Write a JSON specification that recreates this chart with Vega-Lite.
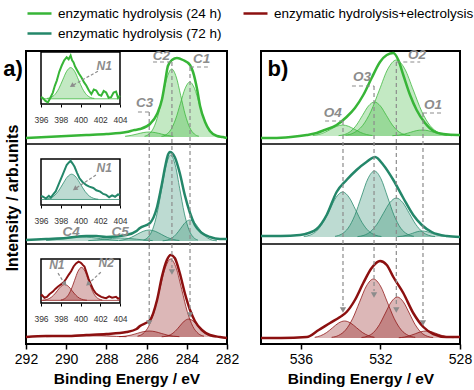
{
"$schema": "https://vega.github.io/schema/vega-lite/v6.json",
"padding": {"left": 2, "top": 0, "right": 2, "bottom": 2},
"bounds": "flush",
"spacing": 34,
"config": {"font": "Liberation Sans", "view": {"stroke": "black", "strokeWidth": 2}, "axis": {"grid": false},
 "legend": {"orient": "top", "columns": 2, "symbolType": "stroke", "symbolSize": 576, "symbolStrokeWidth": 2.5, "labelFontSize": 13.5, "labelColor": "black", "labelLimit": 300, "labelOffset": 5, "columnPadding": 16, "rowPadding": -8, "offset": 6, "symbolOpacity": 1}},
"datasets": {
"main": [
{"c":"C","p":"a","s":"env","x":292,"y":206},{"c":"C","p":"a","s":"env","x":291,"y":207},{"c":"C","p":"a","s":"env","x":290,"y":208},{"c":"C","p":"a","s":"env","x":289,"y":209},{"c":"C","p":"a","s":"env","x":288,"y":210},{"c":"C","p":"a","s":"env","x":287,"y":212},{"c":"C","p":"a","s":"env","x":286.6,"y":214},{"c":"C","p":"a","s":"env","x":286.33,"y":215},{"c":"C","p":"a","s":"env","x":285.83,"y":220},{"c":"C","p":"a","s":"env","x":285.48,"y":230},{"c":"C","p":"a","s":"env","x":285.23,"y":245},{"c":"C","p":"a","s":"env","x":285.08,"y":262},{"c":"C","p":"a","s":"env","x":284.94,"y":278},{"c":"C","p":"a","s":"env","x":284.74,"y":284},{"c":"C","p":"a","s":"env","x":284.49,"y":286},{"c":"C","p":"a","s":"env","x":284.19,"y":284},{"c":"C","p":"a","s":"env","x":283.84,"y":279},{"c":"C","p":"a","s":"env","x":283.69,"y":272},{"c":"C","p":"a","s":"env","x":283.49,"y":255},{"c":"C","p":"a","s":"env","x":283.34,"y":238},{"c":"C","p":"a","s":"env","x":283.09,"y":222},{"c":"C","p":"a","s":"env","x":282.85,"y":213},{"c":"C","p":"a","s":"env","x":282.5,"y":208},{"c":"C","p":"a","s":"env","x":282.2,"y":207},{"c":"C","p":"a","s":"env","x":282,"y":206},
{"c":"C","p":"a","s":"C2","x":286.1,"y":207.8,"b":207},{"c":"C","p":"a","s":"C2","x":285.875,"y":210,"b":207},{"c":"C","p":"a","s":"C2","x":285.65,"y":216.2,"b":207},{"c":"C","p":"a","s":"C2","x":285.425,"y":229.1,"b":207},{"c":"C","p":"a","s":"C2","x":285.2,"y":248.2,"b":207},{"c":"C","p":"a","s":"C2","x":284.975,"y":267,"b":207},{"c":"C","p":"a","s":"C2","x":284.75,"y":275,"b":207},{"c":"C","p":"a","s":"C2","x":284.525,"y":267,"b":207},{"c":"C","p":"a","s":"C2","x":284.3,"y":248.2,"b":207},{"c":"C","p":"a","s":"C2","x":284.075,"y":229.1,"b":207},{"c":"C","p":"a","s":"C2","x":283.85,"y":216.2,"b":207},{"c":"C","p":"a","s":"C2","x":283.625,"y":210,"b":207},{"c":"C","p":"a","s":"C2","x":283.4,"y":207.8,"b":207},
{"c":"C","p":"a","s":"C1","x":285.26,"y":207.6,"b":207},{"c":"C","p":"a","s":"C1","x":285.025,"y":209.4,"b":207},{"c":"C","p":"a","s":"C1","x":284.79,"y":214.4,"b":207},{"c":"C","p":"a","s":"C1","x":284.555,"y":224.9,"b":207},{"c":"C","p":"a","s":"C1","x":284.32,"y":240.4,"b":207},{"c":"C","p":"a","s":"C1","x":284.085,"y":255.5,"b":207},{"c":"C","p":"a","s":"C1","x":283.85,"y":262,"b":207},{"c":"C","p":"a","s":"C1","x":283.615,"y":255.5,"b":207},{"c":"C","p":"a","s":"C1","x":283.38,"y":240.4,"b":207},{"c":"C","p":"a","s":"C1","x":283.145,"y":224.9,"b":207},{"c":"C","p":"a","s":"C1","x":282.91,"y":214.4,"b":207},{"c":"C","p":"a","s":"C1","x":282.675,"y":209.4,"b":207},{"c":"C","p":"a","s":"C1","x":282.44,"y":207.6,"b":207},
{"c":"C","p":"a","s":"C3","x":287.07,"y":207.7,"b":207},{"c":"C","p":"a","s":"C3","x":286.77,"y":208.6,"b":207},{"c":"C","p":"a","s":"C3","x":286.47,"y":210,"b":207},{"c":"C","p":"a","s":"C3","x":286.17,"y":211.4,"b":207},{"c":"C","p":"a","s":"C3","x":285.87,"y":212,"b":207},{"c":"C","p":"a","s":"C3","x":285.57,"y":211.4,"b":207},{"c":"C","p":"a","s":"C3","x":285.27,"y":210,"b":207},{"c":"C","p":"a","s":"C3","x":284.97,"y":208.6,"b":207},{"c":"C","p":"a","s":"C3","x":284.67,"y":207.7,"b":207},
{"c":"C","p":"b","s":"env","x":292,"y":104},{"c":"C","p":"b","s":"env","x":291,"y":105},{"c":"C","p":"b","s":"env","x":290,"y":106},{"c":"C","p":"b","s":"env","x":289,"y":108},{"c":"C","p":"b","s":"env","x":288.5,"y":108},{"c":"C","p":"b","s":"env","x":288,"y":107},{"c":"C","p":"b","s":"env","x":287,"y":109},{"c":"C","p":"b","s":"env","x":286.5,"y":113},{"c":"C","p":"b","s":"env","x":286.33,"y":116},{"c":"C","p":"b","s":"env","x":285.83,"y":121},{"c":"C","p":"b","s":"env","x":285.48,"y":137},{"c":"C","p":"b","s":"env","x":285.23,"y":161},{"c":"C","p":"b","s":"env","x":285.08,"y":177},{"c":"C","p":"b","s":"env","x":284.94,"y":189},{"c":"C","p":"b","s":"env","x":284.84,"y":192},{"c":"C","p":"b","s":"env","x":284.6,"y":187},{"c":"C","p":"b","s":"env","x":284.35,"y":171},{"c":"C","p":"b","s":"env","x":284.1,"y":149},{"c":"C","p":"b","s":"env","x":283.84,"y":131},{"c":"C","p":"b","s":"env","x":283.6,"y":119},{"c":"C","p":"b","s":"env","x":283.25,"y":111},{"c":"C","p":"b","s":"env","x":282.85,"y":107},{"c":"C","p":"b","s":"env","x":282.35,"y":105},{"c":"C","p":"b","s":"env","x":282,"y":105},
{"c":"C","p":"b","s":"C2","x":286.15,"y":104,"b":103},{"c":"C","p":"b","s":"C2","x":285.925,"y":106.8,"b":103},{"c":"C","p":"b","s":"C2","x":285.7,"y":114.6,"b":103},{"c":"C","p":"b","s":"C2","x":285.475,"y":130.9,"b":103},{"c":"C","p":"b","s":"C2","x":285.25,"y":155.2,"b":103},{"c":"C","p":"b","s":"C2","x":285.025,"y":178.9,"b":103},{"c":"C","p":"b","s":"C2","x":284.8,"y":189,"b":103},{"c":"C","p":"b","s":"C2","x":284.575,"y":178.9,"b":103},{"c":"C","p":"b","s":"C2","x":284.35,"y":155.2,"b":103},{"c":"C","p":"b","s":"C2","x":284.125,"y":130.9,"b":103},{"c":"C","p":"b","s":"C2","x":283.9,"y":114.6,"b":103},{"c":"C","p":"b","s":"C2","x":283.675,"y":106.8,"b":103},{"c":"C","p":"b","s":"C2","x":283.45,"y":104,"b":103},
{"c":"C","p":"b","s":"C1","x":285.2,"y":103.2,"b":103},{"c":"C","p":"b","s":"C1","x":284.975,"y":103.9,"b":103},{"c":"C","p":"b","s":"C1","x":284.75,"y":105.8,"b":103},{"c":"C","p":"b","s":"C1","x":284.525,"y":109.8,"b":103},{"c":"C","p":"b","s":"C1","x":284.3,"y":115.7,"b":103},{"c":"C","p":"b","s":"C1","x":284.075,"y":121.5,"b":103},{"c":"C","p":"b","s":"C1","x":283.85,"y":124,"b":103},{"c":"C","p":"b","s":"C1","x":283.625,"y":121.5,"b":103},{"c":"C","p":"b","s":"C1","x":283.4,"y":115.7,"b":103},{"c":"C","p":"b","s":"C1","x":283.175,"y":109.8,"b":103},{"c":"C","p":"b","s":"C1","x":282.95,"y":105.8,"b":103},{"c":"C","p":"b","s":"C1","x":282.725,"y":103.9,"b":103},{"c":"C","p":"b","s":"C1","x":282.5,"y":103.2,"b":103},
{"c":"C","p":"b","s":"C3","x":287.37,"y":103.5,"b":103},{"c":"C","p":"b","s":"C3","x":287.07,"y":104.5,"b":103},{"c":"C","p":"b","s":"C3","x":286.77,"y":106.6,"b":103},{"c":"C","p":"b","s":"C3","x":286.47,"y":109.7,"b":103},{"c":"C","p":"b","s":"C3","x":286.17,"y":112.7,"b":103},{"c":"C","p":"b","s":"C3","x":285.87,"y":114,"b":103},{"c":"C","p":"b","s":"C3","x":285.57,"y":112.7,"b":103},{"c":"C","p":"b","s":"C3","x":285.27,"y":109.7,"b":103},{"c":"C","p":"b","s":"C3","x":284.97,"y":106.6,"b":103},{"c":"C","p":"b","s":"C3","x":284.67,"y":104.5,"b":103},{"c":"C","p":"b","s":"C3","x":284.37,"y":103.5,"b":103},
{"c":"C","p":"b","s":"C5","x":288.9,"y":103.4,"b":103},{"c":"C","p":"b","s":"C5","x":288.5,"y":104,"b":103},{"c":"C","p":"b","s":"C5","x":288.1,"y":104.8,"b":103},{"c":"C","p":"b","s":"C5","x":287.7,"y":105.6,"b":103},{"c":"C","p":"b","s":"C5","x":287.3,"y":106,"b":103},{"c":"C","p":"b","s":"C5","x":286.9,"y":105.6,"b":103},{"c":"C","p":"b","s":"C5","x":286.5,"y":104.8,"b":103},{"c":"C","p":"b","s":"C5","x":286.1,"y":104,"b":103},{"c":"C","p":"b","s":"C5","x":285.7,"y":103.4,"b":103},
{"c":"C","p":"b","s":"C4","x":291,"y":103.5,"b":103},{"c":"C","p":"b","s":"C4","x":290.55,"y":104.3,"b":103},{"c":"C","p":"b","s":"C4","x":290.1,"y":105.4,"b":103},{"c":"C","p":"b","s":"C4","x":289.65,"y":106.5,"b":103},{"c":"C","p":"b","s":"C4","x":289.2,"y":107,"b":103},{"c":"C","p":"b","s":"C4","x":288.75,"y":106.5,"b":103},{"c":"C","p":"b","s":"C4","x":288.3,"y":105.4,"b":103},{"c":"C","p":"b","s":"C4","x":287.85,"y":104.3,"b":103},{"c":"C","p":"b","s":"C4","x":287.4,"y":103.5,"b":103},
{"c":"C","p":"c","s":"env","x":292,"y":7},{"c":"C","p":"c","s":"env","x":291,"y":8},{"c":"C","p":"c","s":"env","x":290,"y":8},{"c":"C","p":"c","s":"env","x":289,"y":9},{"c":"C","p":"c","s":"env","x":288,"y":10},{"c":"C","p":"c","s":"env","x":287,"y":12},{"c":"C","p":"c","s":"env","x":286.5,"y":15},{"c":"C","p":"c","s":"env","x":286.33,"y":18},{"c":"C","p":"c","s":"env","x":285.83,"y":24},{"c":"C","p":"c","s":"env","x":285.48,"y":44},{"c":"C","p":"c","s":"env","x":285.23,"y":68},{"c":"C","p":"c","s":"env","x":284.99,"y":84},{"c":"C","p":"c","s":"env","x":284.8,"y":89},{"c":"C","p":"c","s":"env","x":284.6,"y":86},{"c":"C","p":"c","s":"env","x":284.35,"y":71},{"c":"C","p":"c","s":"env","x":284.1,"y":51},{"c":"C","p":"c","s":"env","x":283.84,"y":34},{"c":"C","p":"c","s":"env","x":283.6,"y":23},{"c":"C","p":"c","s":"env","x":283.25,"y":14},{"c":"C","p":"c","s":"env","x":282.85,"y":9},{"c":"C","p":"c","s":"env","x":282.35,"y":7},{"c":"C","p":"c","s":"env","x":282,"y":6},
{"c":"C","p":"c","s":"C2","x":286.45,"y":7.9,"b":7},{"c":"C","p":"c","s":"C2","x":286.175,"y":10.4,"b":7},{"c":"C","p":"c","s":"C2","x":285.9,"y":17.6,"b":7},{"c":"C","p":"c","s":"C2","x":285.625,"y":32.3,"b":7},{"c":"C","p":"c","s":"C2","x":285.35,"y":54.3,"b":7},{"c":"C","p":"c","s":"C2","x":285.075,"y":75.8,"b":7},{"c":"C","p":"c","s":"C2","x":284.8,"y":85,"b":7},{"c":"C","p":"c","s":"C2","x":284.525,"y":75.8,"b":7},{"c":"C","p":"c","s":"C2","x":284.25,"y":54.3,"b":7},{"c":"C","p":"c","s":"C2","x":283.975,"y":32.3,"b":7},{"c":"C","p":"c","s":"C2","x":283.7,"y":17.6,"b":7},{"c":"C","p":"c","s":"C2","x":283.425,"y":10.4,"b":7},{"c":"C","p":"c","s":"C2","x":283.15,"y":7.9,"b":7},
{"c":"C","p":"c","s":"C1","x":285.25,"y":7.2,"b":7},{"c":"C","p":"c","s":"C1","x":285.025,"y":7.8,"b":7},{"c":"C","p":"c","s":"C1","x":284.8,"y":9.4,"b":7},{"c":"C","p":"c","s":"C1","x":284.575,"y":12.8,"b":7},{"c":"C","p":"c","s":"C1","x":284.35,"y":17.9,"b":7},{"c":"C","p":"c","s":"C1","x":284.125,"y":22.9,"b":7},{"c":"C","p":"c","s":"C1","x":283.9,"y":25,"b":7},{"c":"C","p":"c","s":"C1","x":283.675,"y":22.9,"b":7},{"c":"C","p":"c","s":"C1","x":283.45,"y":17.9,"b":7},{"c":"C","p":"c","s":"C1","x":283.225,"y":12.8,"b":7},{"c":"C","p":"c","s":"C1","x":283.0,"y":9.4,"b":7},{"c":"C","p":"c","s":"C1","x":282.775,"y":7.8,"b":7},{"c":"C","p":"c","s":"C1","x":282.55,"y":7.2,"b":7},
{"c":"C","p":"c","s":"C3","x":287.37,"y":7.3,"b":7},{"c":"C","p":"c","s":"C3","x":287.07,"y":7.8,"b":7},{"c":"C","p":"c","s":"C3","x":286.77,"y":8.9,"b":7},{"c":"C","p":"c","s":"C3","x":286.47,"y":10.6,"b":7},{"c":"C","p":"c","s":"C3","x":286.17,"y":12.3,"b":7},{"c":"C","p":"c","s":"C3","x":285.87,"y":13,"b":7},{"c":"C","p":"c","s":"C3","x":285.57,"y":12.3,"b":7},{"c":"C","p":"c","s":"C3","x":285.27,"y":10.6,"b":7},{"c":"C","p":"c","s":"C3","x":284.97,"y":8.9,"b":7},{"c":"C","p":"c","s":"C3","x":284.67,"y":7.8,"b":7},{"c":"C","p":"c","s":"C3","x":284.37,"y":7.3,"b":7},
{"c":"C","p":"c","s":"C4","x":291,"y":7.3,"b":7},{"c":"C","p":"c","s":"C4","x":290.5,"y":7.6,"b":7},{"c":"C","p":"c","s":"C4","x":290,"y":8.2,"b":7},{"c":"C","p":"c","s":"C4","x":289.5,"y":8.8,"b":7},{"c":"C","p":"c","s":"C4","x":289,"y":9,"b":7},{"c":"C","p":"c","s":"C4","x":288.5,"y":8.8,"b":7},{"c":"C","p":"c","s":"C4","x":288,"y":8.2,"b":7},{"c":"C","p":"c","s":"C4","x":287.5,"y":7.6,"b":7},{"c":"C","p":"c","s":"C4","x":287,"y":7.3,"b":7},
{"c":"O","p":"a","s":"env","x":538,"y":206},{"c":"O","p":"a","s":"env","x":537.4,"y":206},{"c":"O","p":"a","s":"env","x":536.5,"y":207},{"c":"O","p":"a","s":"env","x":535.7,"y":209},{"c":"O","p":"a","s":"env","x":535.2,"y":211},{"c":"O","p":"a","s":"env","x":534.8,"y":214},{"c":"O","p":"a","s":"env","x":534.2,"y":219},{"c":"O","p":"a","s":"env","x":533.7,"y":227},{"c":"O","p":"a","s":"env","x":533.28,"y":236},{"c":"O","p":"a","s":"env","x":532.86,"y":249},{"c":"O","p":"a","s":"env","x":532.44,"y":266},{"c":"O","p":"a","s":"env","x":532.02,"y":282},{"c":"O","p":"a","s":"env","x":531.68,"y":289},{"c":"O","p":"a","s":"env","x":531.35,"y":291},{"c":"O","p":"a","s":"env","x":531.1,"y":284},{"c":"O","p":"a","s":"env","x":530.85,"y":269},{"c":"O","p":"a","s":"env","x":530.51,"y":249},{"c":"O","p":"a","s":"env","x":530.18,"y":234},{"c":"O","p":"a","s":"env","x":529.76,"y":221},{"c":"O","p":"a","s":"env","x":529.34,"y":213},{"c":"O","p":"a","s":"env","x":528.84,"y":210},{"c":"O","p":"a","s":"env","x":528.1,"y":209},{"c":"O","p":"a","s":"env","x":528,"y":209},
{"c":"O","p":"a","s":"O2","x":533.75,"y":208.8,"b":208},{"c":"O","p":"a","s":"O2","x":533.325,"y":211.3,"b":208},{"c":"O","p":"a","s":"O2","x":532.9,"y":218.3,"b":208},{"c":"O","p":"a","s":"O2","x":532.475,"y":232.7,"b":208},{"c":"O","p":"a","s":"O2","x":532.05,"y":254.1,"b":208},{"c":"O","p":"a","s":"O2","x":531.625,"y":275.1,"b":208},{"c":"O","p":"a","s":"O2","x":531.2,"y":284,"b":208},{"c":"O","p":"a","s":"O2","x":530.775,"y":275.1,"b":208},{"c":"O","p":"a","s":"O2","x":530.35,"y":254.1,"b":208},{"c":"O","p":"a","s":"O2","x":529.925,"y":232.7,"b":208},{"c":"O","p":"a","s":"O2","x":529.5,"y":218.3,"b":208},{"c":"O","p":"a","s":"O2","x":529.075,"y":211.3,"b":208},{"c":"O","p":"a","s":"O2","x":528.65,"y":208.8,"b":208},
{"c":"O","p":"a","s":"O3","x":534.1,"y":208.4,"b":208},{"c":"O","p":"a","s":"O3","x":533.8,"y":209.5,"b":208},{"c":"O","p":"a","s":"O3","x":533.5,"y":212.6,"b":208},{"c":"O","p":"a","s":"O3","x":533.2,"y":219,"b":208},{"c":"O","p":"a","s":"O3","x":532.9,"y":228.6,"b":208},{"c":"O","p":"a","s":"O3","x":532.6,"y":238,"b":208},{"c":"O","p":"a","s":"O3","x":532.3,"y":242,"b":208},{"c":"O","p":"a","s":"O3","x":532.0,"y":238,"b":208},{"c":"O","p":"a","s":"O3","x":531.7,"y":228.6,"b":208},{"c":"O","p":"a","s":"O3","x":531.4,"y":219,"b":208},{"c":"O","p":"a","s":"O3","x":531.1,"y":212.6,"b":208},{"c":"O","p":"a","s":"O3","x":530.8,"y":209.5,"b":208},{"c":"O","p":"a","s":"O3","x":530.5,"y":208.4,"b":208},
{"c":"O","p":"a","s":"O4","x":535.4,"y":208.5,"b":208},{"c":"O","p":"a","s":"O4","x":535.1,"y":209.5,"b":208},{"c":"O","p":"a","s":"O4","x":534.8,"y":211.6,"b":208},{"c":"O","p":"a","s":"O4","x":534.5,"y":214.7,"b":208},{"c":"O","p":"a","s":"O4","x":534.2,"y":217.7,"b":208},{"c":"O","p":"a","s":"O4","x":533.9,"y":219,"b":208},{"c":"O","p":"a","s":"O4","x":533.6,"y":217.7,"b":208},{"c":"O","p":"a","s":"O4","x":533.3,"y":214.7,"b":208},{"c":"O","p":"a","s":"O4","x":533.0,"y":211.6,"b":208},{"c":"O","p":"a","s":"O4","x":532.7,"y":209.5,"b":208},{"c":"O","p":"a","s":"O4","x":532.4,"y":208.5,"b":208},
{"c":"O","p":"a","s":"O1","x":531.4,"y":208.3,"b":208},{"c":"O","p":"a","s":"O1","x":531.1,"y":208.8,"b":208},{"c":"O","p":"a","s":"O1","x":530.8,"y":209.9,"b":208},{"c":"O","p":"a","s":"O1","x":530.5,"y":211.6,"b":208},{"c":"O","p":"a","s":"O1","x":530.2,"y":213.3,"b":208},{"c":"O","p":"a","s":"O1","x":529.9,"y":214,"b":208},{"c":"O","p":"a","s":"O1","x":529.6,"y":213.3,"b":208},{"c":"O","p":"a","s":"O1","x":529.3,"y":211.6,"b":208},{"c":"O","p":"a","s":"O1","x":529.0,"y":209.9,"b":208},{"c":"O","p":"a","s":"O1","x":528.7,"y":208.8,"b":208},{"c":"O","p":"a","s":"O1","x":528.4,"y":208.3,"b":208},
{"c":"O","p":"b","s":"env","x":538,"y":108},{"c":"O","p":"b","s":"env","x":537,"y":108},{"c":"O","p":"b","s":"env","x":536.04,"y":109},{"c":"O","p":"b","s":"env","x":535.6,"y":111},{"c":"O","p":"b","s":"env","x":535.2,"y":115},{"c":"O","p":"b","s":"env","x":534.7,"y":129},{"c":"O","p":"b","s":"env","x":534.2,"y":152},{"c":"O","p":"b","s":"env","x":533.7,"y":164},{"c":"O","p":"b","s":"env","x":533.2,"y":174},{"c":"O","p":"b","s":"env","x":532.7,"y":182},{"c":"O","p":"b","s":"env","x":532.27,"y":187},{"c":"O","p":"b","s":"env","x":531.85,"y":179},{"c":"O","p":"b","s":"env","x":531.35,"y":164},{"c":"O","p":"b","s":"env","x":530.85,"y":146},{"c":"O","p":"b","s":"env","x":530.35,"y":129},{"c":"O","p":"b","s":"env","x":529.92,"y":119},{"c":"O","p":"b","s":"env","x":529.42,"y":112},{"c":"O","p":"b","s":"env","x":528.67,"y":108},{"c":"O","p":"b","s":"env","x":528,"y":107},
{"c":"O","p":"b","s":"O4","x":535.85,"y":107.5,"b":107},{"c":"O","p":"b","s":"O4","x":535.525,"y":109,"b":107},{"c":"O","p":"b","s":"O4","x":535.2,"y":113.1,"b":107},{"c":"O","p":"b","s":"O4","x":534.875,"y":121.6,"b":107},{"c":"O","p":"b","s":"O4","x":534.55,"y":134.3,"b":107},{"c":"O","p":"b","s":"O4","x":534.225,"y":146.7,"b":107},{"c":"O","p":"b","s":"O4","x":533.9,"y":152,"b":107},{"c":"O","p":"b","s":"O4","x":533.575,"y":146.7,"b":107},{"c":"O","p":"b","s":"O4","x":533.25,"y":134.3,"b":107},{"c":"O","p":"b","s":"O4","x":532.925,"y":121.6,"b":107},{"c":"O","p":"b","s":"O4","x":532.6,"y":113.1,"b":107},{"c":"O","p":"b","s":"O4","x":532.275,"y":109,"b":107},{"c":"O","p":"b","s":"O4","x":531.95,"y":107.5,"b":107},
{"c":"O","p":"b","s":"O3","x":534.28,"y":107.7,"b":107},{"c":"O","p":"b","s":"O3","x":533.95,"y":109.9,"b":107},{"c":"O","p":"b","s":"O3","x":533.62,"y":115.9,"b":107},{"c":"O","p":"b","s":"O3","x":533.29,"y":128.4,"b":107},{"c":"O","p":"b","s":"O3","x":532.96,"y":147,"b":107},{"c":"O","p":"b","s":"O3","x":532.63,"y":165.2,"b":107},{"c":"O","p":"b","s":"O3","x":532.3,"y":173,"b":107},{"c":"O","p":"b","s":"O3","x":531.97,"y":165.2,"b":107},{"c":"O","p":"b","s":"O3","x":531.64,"y":147,"b":107},{"c":"O","p":"b","s":"O3","x":531.31,"y":128.4,"b":107},{"c":"O","p":"b","s":"O3","x":530.98,"y":115.9,"b":107},{"c":"O","p":"b","s":"O3","x":530.65,"y":109.9,"b":107},{"c":"O","p":"b","s":"O3","x":530.32,"y":107.7,"b":107},
{"c":"O","p":"b","s":"O2","x":533.15,"y":107.4,"b":107},{"c":"O","p":"b","s":"O2","x":532.825,"y":108.7,"b":107},{"c":"O","p":"b","s":"O2","x":532.5,"y":112.3,"b":107},{"c":"O","p":"b","s":"O2","x":532.175,"y":119.7,"b":107},{"c":"O","p":"b","s":"O2","x":531.85,"y":130.7,"b":107},{"c":"O","p":"b","s":"O2","x":531.525,"y":141.4,"b":107},{"c":"O","p":"b","s":"O2","x":531.2,"y":146,"b":107},{"c":"O","p":"b","s":"O2","x":530.875,"y":141.4,"b":107},{"c":"O","p":"b","s":"O2","x":530.55,"y":130.7,"b":107},{"c":"O","p":"b","s":"O2","x":530.225,"y":119.7,"b":107},{"c":"O","p":"b","s":"O2","x":529.9,"y":112.3,"b":107},{"c":"O","p":"b","s":"O2","x":529.575,"y":108.7,"b":107},{"c":"O","p":"b","s":"O2","x":529.25,"y":107.4,"b":107},
{"c":"O","p":"b","s":"O1","x":531.15,"y":107.3,"b":107},{"c":"O","p":"b","s":"O1","x":530.9,"y":107.8,"b":107},{"c":"O","p":"b","s":"O1","x":530.65,"y":108.9,"b":107},{"c":"O","p":"b","s":"O1","x":530.4,"y":110.6,"b":107},{"c":"O","p":"b","s":"O1","x":530.15,"y":112.3,"b":107},{"c":"O","p":"b","s":"O1","x":529.9,"y":113,"b":107},{"c":"O","p":"b","s":"O1","x":529.65,"y":112.3,"b":107},{"c":"O","p":"b","s":"O1","x":529.4,"y":110.6,"b":107},{"c":"O","p":"b","s":"O1","x":529.15,"y":108.9,"b":107},{"c":"O","p":"b","s":"O1","x":528.9,"y":107.8,"b":107},{"c":"O","p":"b","s":"O1","x":528.65,"y":107.3,"b":107},
{"c":"O","p":"c","s":"env","x":538,"y":6},{"c":"O","p":"c","s":"env","x":537,"y":6},{"c":"O","p":"c","s":"env","x":535.7,"y":7},{"c":"O","p":"c","s":"env","x":535.1,"y":14},{"c":"O","p":"c","s":"env","x":534.53,"y":21},{"c":"O","p":"c","s":"env","x":534.03,"y":27},{"c":"O","p":"c","s":"env","x":533.7,"y":32},{"c":"O","p":"c","s":"env","x":533.28,"y":44},{"c":"O","p":"c","s":"env","x":532.86,"y":61},{"c":"O","p":"c","s":"env","x":532.44,"y":76},{"c":"O","p":"c","s":"env","x":532.02,"y":83},{"c":"O","p":"c","s":"env","x":531.68,"y":79},{"c":"O","p":"c","s":"env","x":531.35,"y":67},{"c":"O","p":"c","s":"env","x":530.85,"y":51},{"c":"O","p":"c","s":"env","x":530.35,"y":31},{"c":"O","p":"c","s":"env","x":529.84,"y":17},{"c":"O","p":"c","s":"env","x":529.34,"y":10},{"c":"O","p":"c","s":"env","x":528.67,"y":7},{"c":"O","p":"c","s":"env","x":528,"y":7},
{"c":"O","p":"c","s":"O4","x":535.3,"y":6.7,"b":6},{"c":"O","p":"c","s":"O4","x":535.0,"y":8.3,"b":6},{"c":"O","p":"c","s":"O4","x":534.7,"y":11.5,"b":6},{"c":"O","p":"c","s":"O4","x":534.4,"y":16.3,"b":6},{"c":"O","p":"c","s":"O4","x":534.1,"y":21,"b":6},{"c":"O","p":"c","s":"O4","x":533.8,"y":23,"b":6},{"c":"O","p":"c","s":"O4","x":533.5,"y":21,"b":6},{"c":"O","p":"c","s":"O4","x":533.2,"y":16.3,"b":6},{"c":"O","p":"c","s":"O4","x":532.9,"y":11.5,"b":6},{"c":"O","p":"c","s":"O4","x":532.6,"y":8.3,"b":6},{"c":"O","p":"c","s":"O4","x":532.3,"y":6.7,"b":6},
{"c":"O","p":"c","s":"O3","x":534.45,"y":6.7,"b":6},{"c":"O","p":"c","s":"O3","x":534.1,"y":8.6,"b":6},{"c":"O","p":"c","s":"O3","x":533.75,"y":14,"b":6},{"c":"O","p":"c","s":"O3","x":533.4,"y":25.2,"b":6},{"c":"O","p":"c","s":"O3","x":533.05,"y":41.8,"b":6},{"c":"O","p":"c","s":"O3","x":532.7,"y":58.1,"b":6},{"c":"O","p":"c","s":"O3","x":532.35,"y":65,"b":6},{"c":"O","p":"c","s":"O3","x":532.0,"y":58.1,"b":6},{"c":"O","p":"c","s":"O3","x":531.65,"y":41.8,"b":6},{"c":"O","p":"c","s":"O3","x":531.3,"y":25.2,"b":6},{"c":"O","p":"c","s":"O3","x":530.95,"y":14,"b":6},{"c":"O","p":"c","s":"O3","x":530.6,"y":8.6,"b":6},{"c":"O","p":"c","s":"O3","x":530.25,"y":6.7,"b":6},
{"c":"O","p":"c","s":"O2","x":532.95,"y":6.5,"b":6},{"c":"O","p":"c","s":"O2","x":532.65,"y":7.8,"b":6},{"c":"O","p":"c","s":"O2","x":532.35,"y":11.5,"b":6},{"c":"O","p":"c","s":"O2","x":532.05,"y":19.3,"b":6},{"c":"O","p":"c","s":"O2","x":531.75,"y":30.9,"b":6},{"c":"O","p":"c","s":"O2","x":531.45,"y":42.2,"b":6},{"c":"O","p":"c","s":"O2","x":531.15,"y":47,"b":6},{"c":"O","p":"c","s":"O2","x":530.85,"y":42.2,"b":6},{"c":"O","p":"c","s":"O2","x":530.55,"y":30.9,"b":6},{"c":"O","p":"c","s":"O2","x":530.25,"y":19.3,"b":6},{"c":"O","p":"c","s":"O2","x":529.95,"y":11.5,"b":6},{"c":"O","p":"c","s":"O2","x":529.65,"y":7.8,"b":6},{"c":"O","p":"c","s":"O2","x":529.35,"y":6.5,"b":6},
{"c":"O","p":"c","s":"O1","x":531.075,"y":6.3,"b":6},{"c":"O","p":"c","s":"O1","x":530.8,"y":6.9,"b":6},{"c":"O","p":"c","s":"O1","x":530.525,"y":8.3,"b":6},{"c":"O","p":"c","s":"O1","x":530.25,"y":10.2,"b":6},{"c":"O","p":"c","s":"O1","x":529.975,"y":12.2,"b":6},{"c":"O","p":"c","s":"O1","x":529.7,"y":13,"b":6},{"c":"O","p":"c","s":"O1","x":529.425,"y":12.2,"b":6},{"c":"O","p":"c","s":"O1","x":529.15,"y":10.2,"b":6},{"c":"O","p":"c","s":"O1","x":528.875,"y":8.3,"b":6},{"c":"O","p":"c","s":"O1","x":528.6,"y":6.9,"b":6},{"c":"O","p":"c","s":"O1","x":528.325,"y":6.3,"b":6}
],
"ins": [
{"p":"a","s":"env","x":396,"y":14},{"p":"a","s":"env","x":396.2,"y":11},{"p":"a","s":"env","x":396.45,"y":6},{"p":"a","s":"env","x":396.7,"y":3},{"p":"a","s":"env","x":396.95,"y":12},{"p":"a","s":"env","x":397.2,"y":22},{"p":"a","s":"env","x":397.4,"y":35},{"p":"a","s":"env","x":397.6,"y":45},{"p":"a","s":"env","x":397.85,"y":62},{"p":"a","s":"env","x":398.1,"y":74},{"p":"a","s":"env","x":398.35,"y":84},{"p":"a","s":"env","x":398.6,"y":90},{"p":"a","s":"env","x":398.8,"y":86},{"p":"a","s":"env","x":399.0,"y":93},{"p":"a","s":"env","x":399.15,"y":84},{"p":"a","s":"env","x":399.3,"y":80},{"p":"a","s":"env","x":399.45,"y":72},{"p":"a","s":"env","x":399.6,"y":67},{"p":"a","s":"env","x":399.85,"y":58},{"p":"a","s":"env","x":400.1,"y":51},{"p":"a","s":"env","x":400.35,"y":42},{"p":"a","s":"env","x":400.6,"y":35},{"p":"a","s":"env","x":400.85,"y":26},{"p":"a","s":"env","x":401.1,"y":19},{"p":"a","s":"env","x":401.35,"y":28},{"p":"a","s":"env","x":401.6,"y":26},{"p":"a","s":"env","x":401.85,"y":18},{"p":"a","s":"env","x":402.1,"y":16},{"p":"a","s":"env","x":402.35,"y":25},{"p":"a","s":"env","x":402.6,"y":22},{"p":"a","s":"env","x":402.85,"y":12},{"p":"a","s":"env","x":403.1,"y":13},{"p":"a","s":"env","x":403.35,"y":22},{"p":"a","s":"env","x":403.6,"y":24},{"p":"a","s":"env","x":403.8,"y":12},{"p":"a","s":"env","x":404,"y":16},
{"p":"a","s":"bg","x":396,"y":10,"b":10},{"p":"a","s":"bg","x":404,"y":10,"b":10},
{"p":"a","s":"N1","x":396.6,"y":10.7,"b":10},{"p":"a","s":"N1","x":397.0,"y":12.6,"b":10},{"p":"a","s":"N1","x":397.4,"y":18.1,"b":10},{"p":"a","s":"N1","x":397.8,"y":29.5,"b":10},{"p":"a","s":"N1","x":398.2,"y":46.4,"b":10},{"p":"a","s":"N1","x":398.6,"y":63,"b":10},{"p":"a","s":"N1","x":399.0,"y":70,"b":10},{"p":"a","s":"N1","x":399.4,"y":63,"b":10},{"p":"a","s":"N1","x":399.8,"y":46.4,"b":10},{"p":"a","s":"N1","x":400.2,"y":29.5,"b":10},{"p":"a","s":"N1","x":400.6,"y":18.1,"b":10},{"p":"a","s":"N1","x":401.0,"y":12.6,"b":10},{"p":"a","s":"N1","x":401.4,"y":10.7,"b":10},
{"p":"b","s":"env","x":396,"y":20},{"p":"b","s":"env","x":396.2,"y":18},{"p":"b","s":"env","x":396.5,"y":14},{"p":"b","s":"env","x":396.8,"y":20},{"p":"b","s":"env","x":397.0,"y":16},{"p":"b","s":"env","x":397.2,"y":22},{"p":"b","s":"env","x":397.5,"y":30},{"p":"b","s":"env","x":397.9,"y":51},{"p":"b","s":"env","x":398.2,"y":66},{"p":"b","s":"env","x":398.6,"y":87},{"p":"b","s":"env","x":398.8,"y":92},{"p":"b","s":"env","x":399.0,"y":96},{"p":"b","s":"env","x":399.2,"y":90},{"p":"b","s":"env","x":399.4,"y":83},{"p":"b","s":"env","x":399.65,"y":70},{"p":"b","s":"env","x":399.9,"y":58},{"p":"b","s":"env","x":400.2,"y":50},{"p":"b","s":"env","x":400.6,"y":43},{"p":"b","s":"env","x":400.9,"y":40},{"p":"b","s":"env","x":401.3,"y":37},{"p":"b","s":"env","x":401.6,"y":32},{"p":"b","s":"env","x":402.0,"y":29},{"p":"b","s":"env","x":402.3,"y":24},{"p":"b","s":"env","x":402.6,"y":22},{"p":"b","s":"env","x":402.9,"y":17},{"p":"b","s":"env","x":403.2,"y":21},{"p":"b","s":"env","x":403.5,"y":18},{"p":"b","s":"env","x":403.8,"y":23},{"p":"b","s":"env","x":404,"y":22},
{"p":"b","s":"bg","x":396,"y":12,"b":12},{"p":"b","s":"bg","x":404,"y":12,"b":12},
{"p":"b","s":"N1","x":396.4,"y":12.6,"b":12},{"p":"b","s":"N1","x":396.85,"y":14.4,"b":12},{"p":"b","s":"N1","x":397.3,"y":19.4,"b":12},{"p":"b","s":"N1","x":397.75,"y":29.9,"b":12},{"p":"b","s":"N1","x":398.2,"y":45.4,"b":12},{"p":"b","s":"N1","x":398.65,"y":60.5,"b":12},{"p":"b","s":"N1","x":399.1,"y":67,"b":12},{"p":"b","s":"N1","x":399.55,"y":60.5,"b":12},{"p":"b","s":"N1","x":400.0,"y":45.4,"b":12},{"p":"b","s":"N1","x":400.45,"y":29.9,"b":12},{"p":"b","s":"N1","x":400.9,"y":19.4,"b":12},{"p":"b","s":"N1","x":401.35,"y":14.4,"b":12},{"p":"b","s":"N1","x":401.8,"y":12.6,"b":12},
{"p":"c","s":"env","x":396,"y":16},{"p":"c","s":"env","x":396.1,"y":18},{"p":"c","s":"env","x":396.35,"y":12},{"p":"c","s":"env","x":396.6,"y":14},{"p":"c","s":"env","x":396.85,"y":20},{"p":"c","s":"env","x":397.2,"y":26},{"p":"c","s":"env","x":397.45,"y":32},{"p":"c","s":"env","x":397.7,"y":37},{"p":"c","s":"env","x":398.0,"y":42},{"p":"c","s":"env","x":398.3,"y":47},{"p":"c","s":"env","x":398.55,"y":55},{"p":"c","s":"env","x":398.8,"y":64},{"p":"c","s":"env","x":399.05,"y":72},{"p":"c","s":"env","x":399.3,"y":83},{"p":"c","s":"env","x":399.55,"y":90},{"p":"c","s":"env","x":399.8,"y":94},{"p":"c","s":"env","x":400.0,"y":92},{"p":"c","s":"env","x":400.1,"y":90},{"p":"c","s":"env","x":400.25,"y":86},{"p":"c","s":"env","x":400.4,"y":83},{"p":"c","s":"env","x":400.6,"y":70},{"p":"c","s":"env","x":400.8,"y":56},{"p":"c","s":"env","x":401.05,"y":42},{"p":"c","s":"env","x":401.3,"y":30},{"p":"c","s":"env","x":401.55,"y":22},{"p":"c","s":"env","x":401.8,"y":18},{"p":"c","s":"env","x":402.1,"y":14},{"p":"c","s":"env","x":402.4,"y":12},{"p":"c","s":"env","x":402.6,"y":11},{"p":"c","s":"env","x":402.9,"y":15},{"p":"c","s":"env","x":403.2,"y":12},{"p":"c","s":"env","x":403.6,"y":14},{"p":"c","s":"env","x":403.8,"y":10},{"p":"c","s":"env","x":404,"y":11},
{"p":"c","s":"bg","x":396,"y":6,"b":6},{"p":"c","s":"bg","x":404,"y":6,"b":6},
{"p":"c","s":"N1","x":396.15,"y":6.4,"b":6},{"p":"c","s":"N1","x":396.525,"y":7.6,"b":6},{"p":"c","s":"N1","x":396.9,"y":10.9,"b":6},{"p":"c","s":"N1","x":397.275,"y":17.7,"b":6},{"p":"c","s":"N1","x":397.65,"y":27.8,"b":6},{"p":"c","s":"N1","x":398.025,"y":37.8,"b":6},{"p":"c","s":"N1","x":398.4,"y":42,"b":6},{"p":"c","s":"N1","x":398.775,"y":37.8,"b":6},{"p":"c","s":"N1","x":399.15,"y":27.8,"b":6},{"p":"c","s":"N1","x":399.525,"y":17.7,"b":6},{"p":"c","s":"N1","x":399.9,"y":10.9,"b":6},{"p":"c","s":"N1","x":400.275,"y":7.6,"b":6},{"p":"c","s":"N1","x":400.65,"y":6.4,"b":6},
{"p":"c","s":"N2","x":398.0,"y":6.8,"b":6},{"p":"c","s":"N2","x":398.35,"y":9.3,"b":6},{"p":"c","s":"N2","x":398.7,"y":16.1,"b":6},{"p":"c","s":"N2","x":399.05,"y":30.4,"b":6},{"p":"c","s":"N2","x":399.4,"y":51.5,"b":6},{"p":"c","s":"N2","x":399.75,"y":72.2,"b":6},{"p":"c","s":"N2","x":400.1,"y":81,"b":6},{"p":"c","s":"N2","x":400.45,"y":72.2,"b":6},{"p":"c","s":"N2","x":400.8,"y":51.5,"b":6},{"p":"c","s":"N2","x":401.15,"y":30.4,"b":6},{"p":"c","s":"N2","x":401.5,"y":16.1,"b":6},{"p":"c","s":"N2","x":401.85,"y":9.3,"b":6},{"p":"c","s":"N2","x":402.2,"y":6.8,"b":6}
],
"box": [{"p":"a","x":396,"x2":404,"y":0,"y2":100},{"p":"b","x":396,"x2":404,"y":0,"y2":100},{"p":"c","x":396,"x2":404,"y":0,"y2":100}],
"ilab": [{"p":"a","x":402.4,"y":74,"t":"N1"},{"p":"b","x":402.4,"y":80,"t":"N1"},{"p":"c","x":397.6,"y":86,"t":"N1"},{"p":"c","x":402.6,"y":91,"t":"N2"}],
"iarr": [{"p":"a","id":"a1","x":401.76,"y":63,"end":0},{"p":"a","id":"a1","x":399.13,"y":35,"end":1},{"p":"b","id":"b1","x":401.56,"y":65,"end":0},{"p":"b","id":"b1","x":399.43,"y":35,"end":1},{"p":"c","id":"c1","x":397.72,"y":68,"end":0},{"p":"c","id":"c1","x":398.42,"y":43,"end":1},{"p":"c","id":"c2","x":402.06,"y":70,"end":0},{"p":"c","id":"c2","x":400.75,"y":43,"end":1}],
"lab": [{"c":"C","x":285.26,"y":288,"t":"C2"},{"c":"C","x":283.26,"y":285,"t":"C1"},{"c":"C","x":286.1,"y":241,"t":"C3"},{"c":"C","x":289.76,"y":112,"t":"C4"},{"c":"C","x":287.32,"y":112,"t":"C5"},{"c":"O","x":530.16,"y":289,"t":"O2"},{"c":"O","x":532.93,"y":267,"t":"O3"},{"c":"O","x":534.4,"y":231,"t":"O4"},{"c":"O","x":529.36,"y":239,"t":"O1"}],
"seg": [{"c":"C","x":285.68,"x2":284.74,"y":282,"y2":282},{"c":"C","x":283.84,"x2":282.95,"y":277,"y2":277},{"c":"C","x":286.43,"x2":285.87,"y":232,"y2":232},{"c":"C","x":284.74,"x2":284.74,"y":282,"y2":76},{"c":"C","x":283.84,"x2":283.84,"y":277,"y2":33},{"c":"C","x":285.87,"x2":285.87,"y":232,"y2":25},
{"c":"O","x":531.2,"x2":530.0,"y":282,"y2":282},{"c":"O","x":533.43,"x2":532.32,"y":258,"y2":258},{"c":"O","x":534.78,"x2":533.88,"y":223,"y2":223},{"c":"O","x":529.86,"x2":528.9,"y":231,"y2":231},{"c":"O","x":531.2,"x2":531.2,"y":282,"y2":38},{"c":"O","x":532.32,"x2":532.32,"y":258,"y2":53},{"c":"O","x":533.88,"x2":533.88,"y":223,"y2":38},{"c":"O","x":529.86,"x2":529.86,"y":231,"y2":25}],
"arr": [{"c":"C","x":284.74,"y":72},{"c":"C","x":283.84,"y":29},{"c":"C","x":285.87,"y":21},{"c":"O","x":533.88,"y":34},{"c":"O","x":532.32,"y":49},{"c":"O","x":531.2,"y":34},{"c":"O","x":529.86,"y":21}],
"div": [{"c":"C","y":100},{"c":"C","y":200},{"c":"O","y":100},{"c":"O","y":200}],
"big": [{"c":"C","x":292.65,"y":275,"t":"a)"},{"c":"O","x":537.15,"y":275,"t":"b)"}]
},
"hconcat": [
{
"width": 201, "height": 293,
"resolve": {"scale": {"x": "independent", "y": "independent"}},
"layer": [
{
"layer": [
{"data": {"name": "main"}, "transform": [{"filter": "datum.c == 'C' && datum.s != 'env'"}],
 "mark": {"type": "area", "interpolate": "monotone", "fillOpacity": 0.3, "line": {"strokeWidth": 1, "opacity": 0.75}},
 "encoding": {
  "x": {"field": "x", "type": "quantitative", "scale": {"domain": [282, 292], "reverse": true, "nice": false, "zero": false},
   "axis": {"title": "Binding Energy / eV", "values": [282,283,284,285,286,287,288,289,290,291,292], "labelExpr": "datum.value % 2 == 0 ? datum.label : ''", "domain": false, "tickColor": "black", "tickWidth": 1.5, "tickSize": 5, "labelFontSize": 14, "labelColor": "black", "titleFontSize": 15.5, "titleFontWeight": "bold", "titleColor": "black", "labelPadding": 3, "titlePadding": 5, "labelFlush": false}},
  "y": {"field": "y", "type": "quantitative", "scale": {"domain": [0, 293], "nice": false, "zero": false},
   "axis": {"title": "Intensity / arb.units", "labels": false, "ticks": false, "domain": false, "titleFontSize": 16, "titleFontWeight": "bold", "titleColor": "black", "titlePadding": 6}},
  "y2": {"field": "b"},
  "color": {"field": "p", "type": "nominal", "scale": {"domain": ["a", "c", "b"], "range": ["#37b537", "#8c1010", "#24876a"]}},
  "detail": {"field": "s"}
 }},
{"data": {"name": "main"}, "transform": [{"filter": "datum.c == 'C' && datum.s == 'env'"}],
 "mark": {"type": "line", "interpolate": "monotone", "strokeWidth": 2.5},
 "encoding": {
  "x": {"field": "x", "type": "quantitative", "scale": {"domain": [282, 292], "reverse": true, "nice": false, "zero": false}},
  "y": {"field": "y", "type": "quantitative", "scale": {"domain": [0, 293], "nice": false, "zero": false}},
  "color": {"field": "p", "type": "nominal", "scale": {"domain": ["a", "c", "b"], "range": ["#37b537", "#8c1010", "#24876a"]},
   "legend": {"title": null, "labelExpr": "datum.value == 'a' ? 'enzymatic hydrolysis (24 h)' : datum.value == 'b' ? 'enzymatic hydrolysis (72 h)' : 'enzymatic hydrolysis+electrolysis'"}}
 }},
{"data": {"name": "div"}, "transform": [{"filter": "datum.c == 'C'"}], "mark": {"type": "rule", "color": "black", "strokeWidth": 1.5},
 "encoding": {"y": {"field": "y", "type": "quantitative", "scale": {"domain": [0, 293], "nice": false, "zero": false}}}},
{"data": {"name": "seg"}, "transform": [{"filter": "datum.c == 'C'"}], "mark": {"type": "rule", "color": "#8c8c8c", "strokeWidth": 1.2, "strokeDash": [4, 3]},
 "encoding": {"x": {"field": "x", "type": "quantitative", "scale": {"domain": [282, 292], "reverse": true, "nice": false, "zero": false}}, "x2": {"field": "x2"},
  "y": {"field": "y", "type": "quantitative", "scale": {"domain": [0, 293], "nice": false, "zero": false}}, "y2": {"field": "y2"}}},
{"data": {"name": "arr"}, "transform": [{"filter": "datum.c == 'C'"}], "mark": {"type": "point", "shape": "triangle-down", "filled": true, "color": "#8c8c8c", "size": 40, "opacity": 1},
 "encoding": {"x": {"field": "x", "type": "quantitative", "scale": {"domain": [282, 292], "reverse": true, "nice": false, "zero": false}},
  "y": {"field": "y", "type": "quantitative", "scale": {"domain": [0, 293], "nice": false, "zero": false}}}},
{"data": {"name": "lab"}, "transform": [{"filter": "datum.c == 'C'"}], "mark": {"type": "text", "color": "#8c8c8c", "fontSize": 13.5, "fontWeight": "bold", "fontStyle": "italic", "baseline": "middle"},
 "encoding": {"x": {"field": "x", "type": "quantitative", "scale": {"domain": [282, 292], "reverse": true, "nice": false, "zero": false}},
  "y": {"field": "y", "type": "quantitative", "scale": {"domain": [0, 293], "nice": false, "zero": false}}, "text": {"field": "t"}}},
{"data": {"name": "big"}, "transform": [{"filter": "datum.c == 'C'"}], "mark": {"type": "text", "color": "black", "fontSize": 22, "fontWeight": "bold", "baseline": "middle"},
 "encoding": {"x": {"field": "x", "type": "quantitative", "scale": {"domain": [282, 292], "reverse": true, "nice": false, "zero": false}},
  "y": {"field": "y", "type": "quantitative", "scale": {"domain": [0, 293], "nice": false, "zero": false}}, "text": {"field": "t"}}}
]
},
{
"layer": [
{"data": {"name": "box"}, "transform": [{"filter": "datum.p == 'a'"}], "mark": {"type": "rect", "fill": "white", "stroke": "black", "strokeWidth": 1.5},
 "encoding": {"x": {"field": "x", "type": "quantitative", "scale": {"domain": [396, 404], "range": [15, 94], "nice": false, "zero": false},
   "axis": {"orient": "bottom", "offset": -240, "title": null, "values": [396,397,398,399,400,401,402,403,404], "labelExpr": "datum.value % 2 == 0 ? datum.label : ''", "domain": false, "tickColor": "black", "tickSize": 3, "labelFontSize": 8.5, "labelColor": "#333", "labelPadding": 8, "labelFlush": false}},
  "x2": {"field": "x2"},
  "y": {"field": "y", "type": "quantitative", "scale": {"domain": [0, 100], "range": [53, 1], "nice": false, "zero": false}, "axis": null}, "y2": {"field": "y2"}}},
{"data": {"name": "ins"}, "transform": [{"filter": "datum.p == 'a' && datum.s != 'env'"}], "mark": {"type": "area", "interpolate": "monotone", "fillOpacity": 0.3, "line": {"strokeWidth": 1, "opacity": 0.75}},
 "encoding": {"x": {"field": "x", "type": "quantitative", "scale": {"domain": [396, 404], "range": [15, 94], "nice": false, "zero": false}},
  "y": {"field": "y", "type": "quantitative", "scale": {"domain": [0, 100], "range": [53, 1], "nice": false, "zero": false}}, "y2": {"field": "b"},
  "color": {"field": "p", "type": "nominal"}, "detail": {"field": "s"}}},
{"data": {"name": "ins"}, "transform": [{"filter": "datum.p == 'a' && datum.s == 'env'"}], "mark": {"type": "line", "strokeWidth": 2},
 "encoding": {"x": {"field": "x", "type": "quantitative", "scale": {"domain": [396, 404], "range": [15, 94], "nice": false, "zero": false}},
  "y": {"field": "y", "type": "quantitative", "scale": {"domain": [0, 100], "range": [53, 1], "nice": false, "zero": false}},
  "color": {"field": "p", "type": "nominal"}}},
{"data": {"name": "iarr"}, "transform": [{"filter": "datum.p == 'a'"}], "mark": {"type": "line", "color": "#8c8c8c", "strokeWidth": 1.2, "strokeDash": [3, 2]},
 "encoding": {"x": {"field": "x", "type": "quantitative", "scale": {"domain": [396, 404], "range": [15, 94], "nice": false, "zero": false}},
  "y": {"field": "y", "type": "quantitative", "scale": {"domain": [0, 100], "range": [53, 1], "nice": false, "zero": false}}, "detail": {"field": "id"}, "order": {"field": "end"}}},
{"data": {"name": "iarr"}, "transform": [{"filter": "datum.p == 'a' && datum.end == 1"}], "mark": {"type": "point", "shape": "triangle-up", "angle": 237, "filled": true, "color": "#8c8c8c", "size": 30, "opacity": 1},
 "encoding": {"x": {"field": "x", "type": "quantitative", "scale": {"domain": [396, 404], "range": [15, 94], "nice": false, "zero": false}},
  "y": {"field": "y", "type": "quantitative", "scale": {"domain": [0, 100], "range": [53, 1], "nice": false, "zero": false}}}},
{"data": {"name": "ilab"}, "transform": [{"filter": "datum.p == 'a'"}], "mark": {"type": "text", "color": "#8c8c8c", "fontSize": 12, "fontWeight": "bold", "fontStyle": "italic", "baseline": "middle"},
 "encoding": {"x": {"field": "x", "type": "quantitative", "scale": {"domain": [396, 404], "range": [15, 94], "nice": false, "zero": false}},
  "y": {"field": "y", "type": "quantitative", "scale": {"domain": [0, 100], "range": [53, 1], "nice": false, "zero": false}}, "text": {"field": "t"}}}
]
},
{
"layer": [
{"data": {"name": "box"}, "transform": [{"filter": "datum.p == 'b'"}], "mark": {"type": "rect", "fill": "white", "stroke": "black", "strokeWidth": 1.5},
 "encoding": {"x": {"field": "x", "type": "quantitative", "scale": {"domain": [396, 404], "range": [15, 94], "nice": false, "zero": false},
   "axis": {"orient": "bottom", "offset": -139, "title": null, "values": [396,397,398,399,400,401,402,403,404], "labelExpr": "datum.value % 2 == 0 ? datum.label : ''", "domain": false, "tickColor": "black", "tickSize": 3, "labelFontSize": 8.5, "labelColor": "#333", "labelPadding": 8, "labelFlush": false}},
  "x2": {"field": "x2"},
  "y": {"field": "y", "type": "quantitative", "scale": {"domain": [0, 100], "range": [154, 108], "nice": false, "zero": false}, "axis": null}, "y2": {"field": "y2"}}},
{"data": {"name": "ins"}, "transform": [{"filter": "datum.p == 'b' && datum.s != 'env'"}], "mark": {"type": "area", "interpolate": "monotone", "fillOpacity": 0.3, "line": {"strokeWidth": 1, "opacity": 0.75}},
 "encoding": {"x": {"field": "x", "type": "quantitative", "scale": {"domain": [396, 404], "range": [15, 94], "nice": false, "zero": false}},
  "y": {"field": "y", "type": "quantitative", "scale": {"domain": [0, 100], "range": [154, 108], "nice": false, "zero": false}}, "y2": {"field": "b"},
  "color": {"field": "p", "type": "nominal"}, "detail": {"field": "s"}}},
{"data": {"name": "ins"}, "transform": [{"filter": "datum.p == 'b' && datum.s == 'env'"}], "mark": {"type": "line", "strokeWidth": 2},
 "encoding": {"x": {"field": "x", "type": "quantitative", "scale": {"domain": [396, 404], "range": [15, 94], "nice": false, "zero": false}},
  "y": {"field": "y", "type": "quantitative", "scale": {"domain": [0, 100], "range": [154, 108], "nice": false, "zero": false}},
  "color": {"field": "p", "type": "nominal"}}},
{"data": {"name": "iarr"}, "transform": [{"filter": "datum.p == 'b'"}], "mark": {"type": "line", "color": "#8c8c8c", "strokeWidth": 1.2, "strokeDash": [3, 2]},
 "encoding": {"x": {"field": "x", "type": "quantitative", "scale": {"domain": [396, 404], "range": [15, 94], "nice": false, "zero": false}},
  "y": {"field": "y", "type": "quantitative", "scale": {"domain": [0, 100], "range": [154, 108], "nice": false, "zero": false}}, "detail": {"field": "id"}, "order": {"field": "end"}}},
{"data": {"name": "iarr"}, "transform": [{"filter": "datum.p == 'b' && datum.end == 1"}], "mark": {"type": "point", "shape": "triangle-up", "angle": 236, "filled": true, "color": "#8c8c8c", "size": 30, "opacity": 1},
 "encoding": {"x": {"field": "x", "type": "quantitative", "scale": {"domain": [396, 404], "range": [15, 94], "nice": false, "zero": false}},
  "y": {"field": "y", "type": "quantitative", "scale": {"domain": [0, 100], "range": [154, 108], "nice": false, "zero": false}}}},
{"data": {"name": "ilab"}, "transform": [{"filter": "datum.p == 'b'"}], "mark": {"type": "text", "color": "#8c8c8c", "fontSize": 12, "fontWeight": "bold", "fontStyle": "italic", "baseline": "middle"},
 "encoding": {"x": {"field": "x", "type": "quantitative", "scale": {"domain": [396, 404], "range": [15, 94], "nice": false, "zero": false}},
  "y": {"field": "y", "type": "quantitative", "scale": {"domain": [0, 100], "range": [154, 108], "nice": false, "zero": false}}, "text": {"field": "t"}}}
]
},
{
"layer": [
{"data": {"name": "box"}, "transform": [{"filter": "datum.p == 'c'"}], "mark": {"type": "rect", "fill": "white", "stroke": "black", "strokeWidth": 1.5},
 "encoding": {"x": {"field": "x", "type": "quantitative", "scale": {"domain": [396, 404], "range": [15, 94], "nice": false, "zero": false},
   "axis": {"orient": "bottom", "offset": -41, "title": null, "values": [396,397,398,399,400,401,402,403,404], "labelExpr": "datum.value % 2 == 0 ? datum.label : ''", "domain": false, "tickColor": "black", "tickSize": 3, "labelFontSize": 8.5, "labelColor": "#333", "labelPadding": 8, "labelFlush": false}},
  "x2": {"field": "x2"},
  "y": {"field": "y", "type": "quantitative", "scale": {"domain": [0, 100], "range": [252, 208], "nice": false, "zero": false}, "axis": null}, "y2": {"field": "y2"}}},
{"data": {"name": "ins"}, "transform": [{"filter": "datum.p == 'c' && datum.s != 'env'"}], "mark": {"type": "area", "interpolate": "monotone", "fillOpacity": 0.3, "line": {"strokeWidth": 1, "opacity": 0.75}},
 "encoding": {"x": {"field": "x", "type": "quantitative", "scale": {"domain": [396, 404], "range": [15, 94], "nice": false, "zero": false}},
  "y": {"field": "y", "type": "quantitative", "scale": {"domain": [0, 100], "range": [252, 208], "nice": false, "zero": false}}, "y2": {"field": "b"},
  "color": {"field": "p", "type": "nominal"}, "detail": {"field": "s"}}},
{"data": {"name": "ins"}, "transform": [{"filter": "datum.p == 'c' && datum.s == 'env'"}], "mark": {"type": "line", "strokeWidth": 2},
 "encoding": {"x": {"field": "x", "type": "quantitative", "scale": {"domain": [396, 404], "range": [15, 94], "nice": false, "zero": false}},
  "y": {"field": "y", "type": "quantitative", "scale": {"domain": [0, 100], "range": [252, 208], "nice": false, "zero": false}},
  "color": {"field": "p", "type": "nominal"}}},
{"data": {"name": "iarr"}, "transform": [{"filter": "datum.p == 'c'"}], "mark": {"type": "line", "color": "#8c8c8c", "strokeWidth": 1.2, "strokeDash": [3, 2]},
 "encoding": {"x": {"field": "x", "type": "quantitative", "scale": {"domain": [396, 404], "range": [15, 94], "nice": false, "zero": false}},
  "y": {"field": "y", "type": "quantitative", "scale": {"domain": [0, 100], "range": [252, 208], "nice": false, "zero": false}}, "detail": {"field": "id"}, "order": {"field": "end"}}},
{"data": {"name": "iarr"}, "transform": [{"filter": "datum.id == 'c2' && datum.end == 1"}], "mark": {"type": "point", "shape": "triangle-up", "angle": 228, "filled": true, "color": "#8c8c8c", "size": 30, "opacity": 1},
 "encoding": {"x": {"field": "x", "type": "quantitative", "scale": {"domain": [396, 404], "range": [15, 94], "nice": false, "zero": false}},
  "y": {"field": "y", "type": "quantitative", "scale": {"domain": [0, 100], "range": [252, 208], "nice": false, "zero": false}}}},
{"data": {"name": "iarr"}, "transform": [{"filter": "datum.id == 'c1' && datum.end == 1"}], "mark": {"type": "point", "shape": "triangle-up", "angle": 147, "filled": true, "color": "#8c8c8c", "size": 30, "opacity": 1},
 "encoding": {"x": {"field": "x", "type": "quantitative", "scale": {"domain": [396, 404], "range": [15, 94], "nice": false, "zero": false}},
  "y": {"field": "y", "type": "quantitative", "scale": {"domain": [0, 100], "range": [252, 208], "nice": false, "zero": false}}}},
{"data": {"name": "ilab"}, "transform": [{"filter": "datum.p == 'c'"}], "mark": {"type": "text", "color": "#8c8c8c", "fontSize": 12, "fontWeight": "bold", "fontStyle": "italic", "baseline": "middle"},
 "encoding": {"x": {"field": "x", "type": "quantitative", "scale": {"domain": [396, 404], "range": [15, 94], "nice": false, "zero": false}},
  "y": {"field": "y", "type": "quantitative", "scale": {"domain": [0, 100], "range": [252, 208], "nice": false, "zero": false}}, "text": {"field": "t"}}}
]
}
]
},
{
"width": 199, "height": 293,
"layer": [
{"data": {"name": "main"}, "transform": [{"filter": "datum.c == 'O' && datum.s != 'env'"}],
 "mark": {"type": "area", "interpolate": "monotone", "fillOpacity": 0.3, "line": {"strokeWidth": 1, "opacity": 0.75}},
 "encoding": {
  "x": {"field": "x", "type": "quantitative", "scale": {"domain": [528, 538], "reverse": true, "nice": false, "zero": false},
   "axis": {"title": "Binding Energy / eV", "values": [528,529,530,531,532,533,534,535,536,537,538], "labelExpr": "datum.value % 2 == 0 ? datum.label : ''", "domain": false, "tickColor": "black", "tickWidth": 1.5, "tickSize": 5, "labelFontSize": 14, "labelColor": "black", "titleFontSize": 15.5, "titleFontWeight": "bold", "titleColor": "black", "labelPadding": 3, "titlePadding": 5, "labelFlush": false}},
  "y": {"field": "y", "type": "quantitative", "scale": {"domain": [0, 293], "nice": false, "zero": false}, "axis": null},
  "y2": {"field": "b"},
  "color": {"field": "p", "type": "nominal"},
  "detail": {"field": "s"}
 }},
{"data": {"name": "main"}, "transform": [{"filter": "datum.c == 'O' && datum.s == 'env'"}],
 "mark": {"type": "line", "interpolate": "monotone", "strokeWidth": 2.5},
 "encoding": {
  "x": {"field": "x", "type": "quantitative", "scale": {"domain": [528, 538], "reverse": true, "nice": false, "zero": false}},
  "y": {"field": "y", "type": "quantitative", "scale": {"domain": [0, 293], "nice": false, "zero": false}},
  "color": {"field": "p", "type": "nominal"}
 }},
{"data": {"name": "div"}, "transform": [{"filter": "datum.c == 'O'"}], "mark": {"type": "rule", "color": "black", "strokeWidth": 1.5},
 "encoding": {"y": {"field": "y", "type": "quantitative", "scale": {"domain": [0, 293], "nice": false, "zero": false}}}},
{"data": {"name": "seg"}, "transform": [{"filter": "datum.c == 'O'"}], "mark": {"type": "rule", "color": "#8c8c8c", "strokeWidth": 1.2, "strokeDash": [4, 3]},
 "encoding": {"x": {"field": "x", "type": "quantitative", "scale": {"domain": [528, 538], "reverse": true, "nice": false, "zero": false}}, "x2": {"field": "x2"},
  "y": {"field": "y", "type": "quantitative", "scale": {"domain": [0, 293], "nice": false, "zero": false}}, "y2": {"field": "y2"}}},
{"data": {"name": "arr"}, "transform": [{"filter": "datum.c == 'O'"}], "mark": {"type": "point", "shape": "triangle-down", "filled": true, "color": "#8c8c8c", "size": 40, "opacity": 1},
 "encoding": {"x": {"field": "x", "type": "quantitative", "scale": {"domain": [528, 538], "reverse": true, "nice": false, "zero": false}},
  "y": {"field": "y", "type": "quantitative", "scale": {"domain": [0, 293], "nice": false, "zero": false}}}},
{"data": {"name": "lab"}, "transform": [{"filter": "datum.c == 'O'"}], "mark": {"type": "text", "color": "#8c8c8c", "fontSize": 13.5, "fontWeight": "bold", "fontStyle": "italic", "baseline": "middle"},
 "encoding": {"x": {"field": "x", "type": "quantitative", "scale": {"domain": [528, 538], "reverse": true, "nice": false, "zero": false}},
  "y": {"field": "y", "type": "quantitative", "scale": {"domain": [0, 293], "nice": false, "zero": false}}, "text": {"field": "t"}}},
{"data": {"name": "big"}, "transform": [{"filter": "datum.c == 'O'"}], "mark": {"type": "text", "color": "black", "fontSize": 22, "fontWeight": "bold", "baseline": "middle"},
 "encoding": {"x": {"field": "x", "type": "quantitative", "scale": {"domain": [528, 538], "reverse": true, "nice": false, "zero": false}},
  "y": {"field": "y", "type": "quantitative", "scale": {"domain": [0, 293], "nice": false, "zero": false}}, "text": {"field": "t"}}}
]
}
]
}
